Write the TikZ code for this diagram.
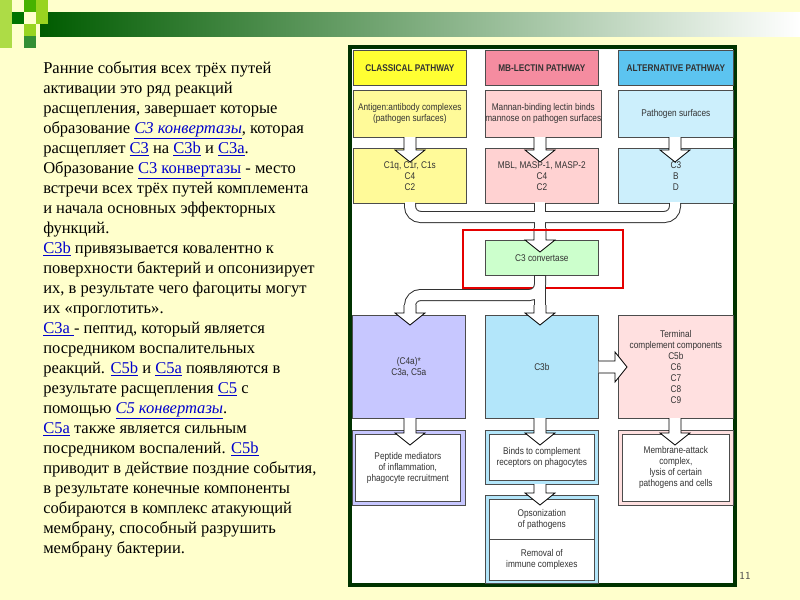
\documentclass[tikz,border=0pt]{standalone}
\usepackage{fontspec}
\setmainfont{Liberation Serif}
\newfontfamily\dsans{Liberation Sans}[FakeStretch=0.85]
\usetikzlibrary{calc}
\definecolor{bg}{HTML}{FFFFCC}
\definecolor{lnk}{HTML}{0000CC}
\definecolor{hy}{HTML}{FFFF33}
\definecolor{hp}{HTML}{F58CA0}
\definecolor{hb}{HTML}{5CC4F0}
\newcommand{\lk}[1]{\textcolor{lnk}{\underline{#1}}}
\newcommand{\lki}[1]{\textcolor{lnk}{\underline{\textit{#1}}}}
% hollow down arrow: x, y of stem top, y of tip
\newcommand{\harrd}[3]{\draw[fill=white,line width=0.6pt] (#1-6,#2) -- (#1-6,#3-12) -- (#1-15,#3-12) -- (#1,#3) -- (#1+15,#3-12) -- (#1+6,#3-12) -- (#1+6,#2);}
\begin{document}
\begin{tikzpicture}[x=0.75pt,y=-0.75pt,
  box/.style={draw=black!70,line width=0.5pt,minimum width=113*0.75pt,anchor=north west,inner sep=0pt,font=\dsans\fontsize{7.3}{8.3}\selectfont,align=center,text=black!80},
  hdr/.style={box,font=\dsans\bfseries\fontsize{7.3}{8.3}\selectfont},
  outb/.style={draw=black!70,line width=0.5pt,anchor=north west,inner sep=0pt,align=center,font=\dsans\fontsize{7.3}{8.3}\selectfont,text=black!80}]
\useasboundingbox (0,0) rectangle (800,600);
\fill[bg] (0,0) rectangle (800,600);
% title band
\shade[left color=black!10!green!40!black, right color=white] (40,12) rectangle (800,36);
\fill[green!45!black] (12,12) rectangle (24,24);
\fill[green!60!yellow!70!black] (24,0) rectangle (36,12);
\fill[yellow!60!green] (36,0) rectangle (48,12);
\fill[yellow!60!green] (36,12) rectangle (48,24);
\fill[yellow!60!green] (24,24) rectangle (36,36);
\fill[green!45!black!80] (24,36) rectangle (36,48);
\fill[yellow!60!green!80] (0,0) rectangle (12,48);
% left text
\node[anchor=north west,inner sep=0pt,align=left,font=\fontsize{12.4}{15}\selectfont] (txt) at (43,61) {%
Ранние события всех трёх путей\\
активации это ряд реакций\\
расщепления, завершает которые\\
образование \lki{C3 конвертазы}, которая\\
расщепляет \lk{C3} на \lk{C3b} и \lk{C3a}.\\
Образование \lk{C3 конвертазы} - место\\
встречи всех трёх путей комплемента\\
и начала основных эффекторных\\
функций.\\
\lk{C3b} привязывается ковалентно к\\
поверхности бактерий и опсонизирует\\
их, в результате чего фагоциты могут\\
их «проглотить».\\
\lk{C3a }- пептид, который является\\
посредником воспалительных\\
реакций. \lk{C5b} и \lk{C5a} появляются в\\
результате расщепления \lk{C5} с\\
помощью \lki{C5 конвертазы}.\\
\lk{C5a} также является сильным\\
посредником воспалений. \lk{C5b}\\
приводит в действие поздние события,\\
в результате конечные компоненты\\
собираются в комплекс атакующий\\
мембрану, способный разрушить\\
мембрану бактерии.};
% panel
\fill[green!20!black] (348,45) rectangle (737,587);
\fill[white] (352,49) rectangle (733,583);
% headers
\node[hdr,fill=hy,minimum height=35*0.75pt] (h1) at (353,50) {CLASSICAL PATHWAY};
\node[hdr,fill=hp,minimum height=35*0.75pt] (h2) at (485,50) {MB-LECTIN PATHWAY};
\node[hdr,fill=hb,minimum height=35*0.75pt,minimum width=115*0.75pt] (h3) at (618,50) {ALTERNATIVE PATHWAY};
% row2
\node[box,fill=yellow!40,minimum height=47*0.75pt] (a1) at (353,90) {Antigen:antibody complexes\\(pathogen surfaces)};
\node[box,fill=pink!70,minimum height=47*0.75pt] (a2) at (485,90) {Mannan-binding lectin binds\\mannose on pathogen surfaces};
\node[box,fill=cyan!20,minimum height=47*0.75pt,minimum width=115*0.75pt] (a3) at (618,90) {Pathogen surfaces};
% row3
\node[box,fill=yellow!40,minimum height=55*0.75pt] (b1) at (353,148) {\\[-3pt]C1q, C1r, C1s\\C4\\C2};
\node[box,fill=pink!70,minimum height=55*0.75pt] (b2) at (485,148) {\\[-3pt]MBL, MASP-1, MASP-2\\C4\\C2};
\node[box,fill=cyan!20,minimum height=55*0.75pt,minimum width=115*0.75pt] (b3) at (618,148) {\\[-3pt]C3\\B\\D};
% row2->row3 arrows
\harrd{410}{137}{162}
\harrd{540}{137}{162}
\harrd{675}{137}{162}
% pipes to C3 convertase
\draw[line width=12*0.75pt,black!80,rounded corners=8pt] (410,203) |- (540,217) -| (675,203);
\draw[line width=12*0.75pt,black!80] (540,203) -- (540,230);
\draw[line width=10*0.75pt,white,rounded corners=8pt] (410,202) |- (540,217) -| (675,202);
\draw[line width=10*0.75pt,white] (540,202) -- (540,231);
\node[box,fill=green!20,minimum height=35*0.75pt] (c3) at (485,240) {C3 convertase};
\harrd{540}{228}{252}
\draw[red!90!black,line width=2.2pt] (463,230) rectangle (623,288);
% pipes below
\draw[line width=12*0.75pt,black!80,rounded corners=8pt] (540,275) |- (410,295) -- (410,312);
\draw[line width=12*0.75pt,black!80] (540,275) -- (540,312);
\draw[line width=10*0.75pt,white,rounded corners=8pt] (540,276) |- (410,295) -- (410,313);
\draw[line width=10*0.75pt,white] (540,276) -- (540,313);
% row effectors
\node[box,fill=blue!22,minimum height=103*0.75pt,minimum width=113*0.75pt] (d1) at (352,315) {(C4a)*\\C3a, C5a};
\node[box,fill=cyan!30,minimum height=103*0.75pt] (d2) at (485,315) {C3b};
\node[box,fill=red!12,minimum height=103*0.75pt,minimum width=115*0.75pt] (d3) at (618,315) {Terminal\\complement components\\C5b\\C6\\C7\\C8\\C9};
\harrd{410}{305}{325}
\harrd{540}{305}{325}
\draw[fill=white,line width=0.6pt] (d2.east |- 0,361) -- (615,361) -- (615,352) -- (627,367) -- (615,382) -- (615,373) -- (d2.east |- 0,373);
% outcomes
\fill[blue!22] (352,430) rectangle (465,505);
\node[outb,fill=white,minimum width=105*0.75pt,minimum height=67*0.75pt] (e1) at (355,434) {Peptide mediators\\of inflammation,\\phagocyte recruitment};
\draw[black!70,line width=0.5pt] (352,430) rectangle (465,505);
\fill[cyan!30] (485,430) rectangle (598,484);
\node[outb,fill=white,minimum width=105*0.75pt,minimum height=46*0.75pt] (e2) at (489,434) {Binds to complement\\receptors on phagocytes};
\draw[black!70,line width=0.5pt] (485,430) rectangle (598,484);
\fill[red!12] (618,430) rectangle (733,505);
\node[outb,fill=white,minimum width=107*0.75pt,minimum height=67*0.75pt] (e3) at (622,434) {Membrane-attack\\complex,\\lysis of certain\\pathogens and cells};
\draw[black!70,line width=0.5pt] (618,430) rectangle (733,505);
\fill[cyan!30] (485,495) rectangle (598,583);
\node[outb,fill=white,minimum width=105*0.75pt,minimum height=40*0.75pt] (f1) at (489,499) {Opsonization\\of pathogens};
\node[outb,fill=white,minimum width=105*0.75pt,minimum height=41*0.75pt] (f2) at (489,539) {Removal of\\immune complexes};
\draw[black!70,line width=0.5pt] (485,495) rectangle (598,583);
\harrd{410}{418}{445}
\harrd{540}{418}{445}
\harrd{675}{418}{445}
\harrd{540}{484}{505}
\node[font=\fontsize{8}{9}\selectfont\sffamily,text=black!70] (pg) at (745,576) {11};
\end{tikzpicture}
\end{document}
